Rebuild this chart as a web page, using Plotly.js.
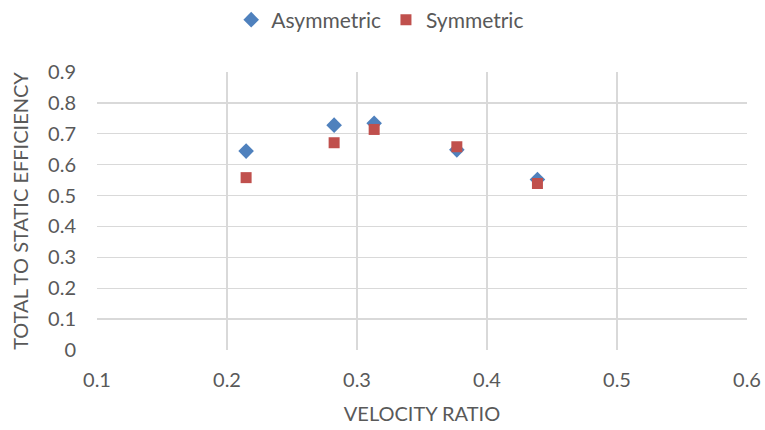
<!DOCTYPE html>
<html>
<head>
<meta charset="utf-8">
<script src="https://cdn.plot.ly/plotly-3.0.1.min.js"></script>
<style>html,body{margin:0;padding:0;background:#fff;}#chart{width:765px;height:430px;}</style>
</head>
<body>
<div id="chart"></div>
<script>
const velocityRatio = [0.2147, 0.2824, 0.3132, 0.3768, 0.4388];
const asymmetric = [0.644, 0.728, 0.734, 0.648, 0.552];
const symmetric = [0.558, 0.671, 0.714, 0.658, 0.539];
const xTicks = [0.1, 0.2, 0.3, 0.4, 0.5, 0.6];
const yTicks = [0, 0.1, 0.2, 0.3, 0.4, 0.5, 0.6, 0.7, 0.8, 0.9];

const font = "Lato, 'Open Sans', sans-serif";
const fs = 20;
const traces = [
  {x: velocityRatio, y: asymmetric, name: 'Asymmetric', mode: 'markers', type: 'scatter',
   marker: {symbol: 'diamond', size: 12, color: '#4F81BD'}},
  {x: velocityRatio, y: symmetric, name: 'Symmetric', mode: 'markers', type: 'scatter',
   marker: {symbol: 'square', size: 11, color: '#C0504D'}}
];
const layout = {
  width: 765, height: 430,
  margin: {l: 97, r: 18, t: 72, b: 80},
  paper_bgcolor: '#fff', plot_bgcolor: '#fff',
  font: {family: font, size: fs, color: '#595959'},
  showlegend: true,
  legend: {orientation: 'h', x: 0.497, xanchor: 'center', xref: 'container',
           y: 1 - 20 / 430, yanchor: 'middle', yref: 'container',
           itemwidth: 30, tracegroupgap: 0,
           font: {family: font, size: 21, color: '#595959'}},
  xaxis: {range: [0.1, 0.6], tickvals: xTicks, ticktext: xTicks.map(v => v.toFixed(1)),
          showgrid: true, gridcolor: '#d9d9d9', gridwidth: 1.3, zeroline: false,
          showline: false, ticks: '', ticklabelstandoff: 16,
          title: {text: 'VELOCITY RATIO', font: {family: font, size: fs, color: '#595959'}, standoff: 16}},
  yaxis: {range: [0, 0.9], tickvals: yTicks, ticktext: yTicks.map(v => v === 0 ? '0' : v.toFixed(1)),
          showgrid: true, gridcolor: '#d9d9d9', gridwidth: 1.3, zeroline: false,
          showline: false, ticks: '', ticklabelstandoff: 20,
          title: {text: 'TOTAL TO STATIC EFFICIENCY', font: {family: font, size: fs, color: '#595959'}, standoff: 14}}
};
Plotly.newPlot('chart', traces, layout, {displayModeBar: false, staticPlot: true});
</script>
</body>
</html>
